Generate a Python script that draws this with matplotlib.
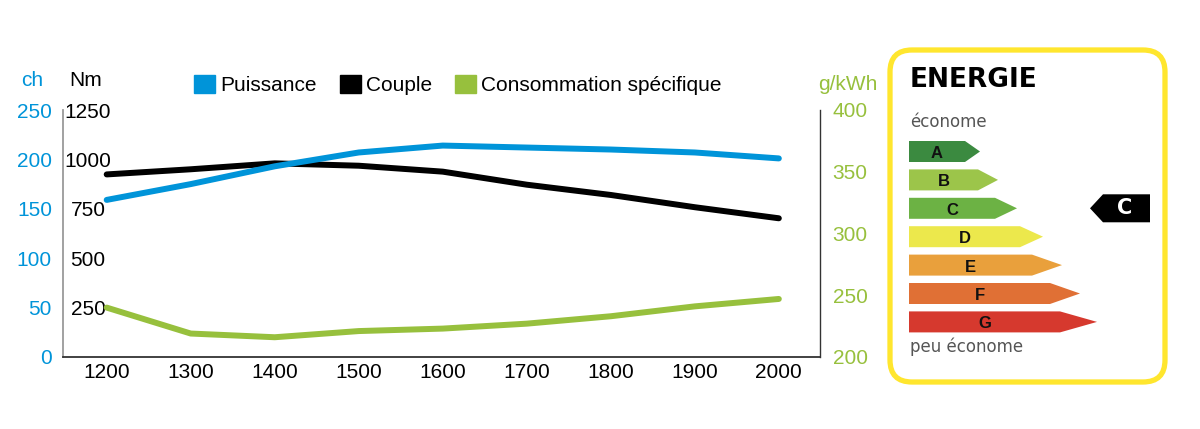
import matplotlib.pyplot as plt
from matplotlib.patches import FancyBboxPatch, Polygon, Patch

plt.rcParams['font.family'] = ['Liberation Sans Narrow', 'Liberation Sans', 'DejaVu Sans']

# --- data ---
rpm = [1200, 1300, 1400, 1500, 1600, 1700, 1800, 1900, 2000]
puissance_ch = [159, 175, 193, 207, 214, 212, 210, 207, 201]
couple_nm = [924, 950, 980, 968, 938, 872, 820, 758, 702]
conso_gkwh = [240, 219, 216, 221, 223, 227, 233, 241, 247]

ch_ticks = [0, 50, 100, 150, 200, 250]
nm_ticks = [250, 500, 750, 1000, 1250]
g_ticks = [200, 250, 300, 350, 400]

classes = ['A', 'B', 'C', 'D', 'E', 'F', 'G']
class_colors = ['#3b8a40', '#9cc54a', '#6cb244', '#ece84c', '#e9a03c', '#e07035', '#d6392e']
class_len = [56, 69, 86, 111, 123, 141, 151]
class_tip = [15, 20, 22, 23, 30, 30, 37]
selected = 'C'

BLUE = '#0094d9'
GREEN = '#97c03d'
FS = 15

fig = plt.figure(figsize=(12, 4.29), dpi=100)
ax = fig.add_axes([63 / 1200, 72 / 429, 757 / 1200, 247 / 429])
ax_ch = ax.twinx()
ax_g = ax.twinx()

ax.plot(rpm, couple_nm, color='black', lw=4.3, solid_capstyle='round', zorder=3)
ax_ch.plot(rpm, puissance_ch, color=BLUE, lw=4.3, solid_capstyle='round')
ax_g.plot(rpm, conso_gkwh, color=GREEN, lw=4.3, solid_capstyle='round')

ax.set_xlim(1148, 2049)
ax.set_xticks(rpm)
ax.set_ylim(0, 1250)
ax.set_yticks(nm_ticks)
ax_ch.set_ylim(0, 250)
ax_ch.set_yticks(ch_ticks)
ax_g.set_ylim(200, 400)
ax_g.set_yticks(g_ticks)

# Nm labels sit inside the plot, centred
ax.tick_params(axis='y', length=0, pad=-18, labelsize=FS)
for lab in ax.get_yticklabels():
    lab.set_ha('center')
ax.tick_params(axis='x', length=0, pad=4, labelsize=FS)

ax_ch.yaxis.tick_left()
ax_ch.tick_params(axis='y', length=0, pad=8, labelsize=FS, labelcolor=BLUE)
ax_g.tick_params(axis='y', length=0, pad=9, labelsize=FS, labelcolor=GREEN)

for a in (ax, ax_ch, ax_g):
    a.spines['top'].set_visible(False)
    a.patch.set_visible(False)
for a in (ax_ch, ax_g):
    a.spines['left'].set_visible(False)
    a.spines['bottom'].set_visible(False)
ax.spines['right'].set_visible(False)
ax_ch.spines['right'].set_visible(False)
ax.spines['left'].set_color('#9a9a9a')
ax.spines['left'].set_linewidth(1.3)
ax.spines['bottom'].set_color('#333333')
ax.spines['bottom'].set_linewidth(1.3)
ax_g.spines['right'].set_color('#333333')
ax_g.spines['right'].set_linewidth(1.0)

fig.text(32 / 1200, 1 - 80 / 429, 'ch', color=BLUE, fontsize=FS, ha='center', va='center')
fig.text(86 / 1200, 1 - 80 / 429, 'Nm', color='black', fontsize=FS, ha='center', va='center')
fig.text(848 / 1200, 1 - 84 / 429, 'g/kWh', color=GREEN, fontsize=FS, ha='center', va='center')

handles = [Patch(color=BLUE, label='Puissance'),
           Patch(color='black', label='Couple'),
           Patch(color=GREEN, label='Consommation spécifique')]
fig.legend(handles=handles, loc='center', bbox_to_anchor=(458 / 1200, 1 - 85 / 429),
           ncol=3, frameon=False, fontsize=FS, handlelength=1.0, handleheight=1.0,
           handletextpad=0.25, columnspacing=1.1)

# --- energy label panel ---
pan = fig.add_axes([0, 0, 1, 1], zorder=-1)
pan.set_xlim(0, 1200)
pan.set_ylim(429, 0)
pan.axis('off')

pan.add_patch(FancyBboxPatch((890, 50), 275, 332,
                             boxstyle='round,pad=0,rounding_size=22',
                             fc='white', ec='#ffe62e', lw=3.8))
pan.text(910, 80, 'ENERGIE', fontsize=19, fontweight='bold', family='DejaVu Sans',
         ha='left', va='center')
pan.text(910, 122, 'économe', fontsize=12, color='#555555', family='DejaVu Sans',
         ha='left', va='center')
pan.text(910, 347, 'peu économe', fontsize=12, color='#555555', family='DejaVu Sans',
         ha='left', va='center')

x0 = 909
for i, (cls, col, L, tip) in enumerate(zip(classes, class_colors, class_len, class_tip)):
    top = 141 + i * 28.4
    h = 21
    pan.add_patch(Polygon([(x0, top), (x0 + L, top), (x0 + L + tip, top + h / 2),
                           (x0 + L, top + h), (x0, top + h)], closed=True,
                          fc=col, ec='none'))
    pan.text(x0 + L / 2, top + h / 2 + 2, cls, fontsize=12, fontweight='bold',
             family='Liberation Sans', ha='center', va='center', color='#111111')
    if cls == selected:
        yc = top + h / 2
        pan.add_patch(Polygon([(1090, yc), (1103, yc - 14), (1150, yc - 14),
                               (1150, yc + 14), (1103, yc + 14)], closed=True,
                              fc='black', ec='none'))
        pan.text(1125, yc, cls, fontsize=15, fontweight='bold', family='DejaVu Sans',
                 color='white', ha='center', va='center')

fig.savefig('out.png', dpi=100)
